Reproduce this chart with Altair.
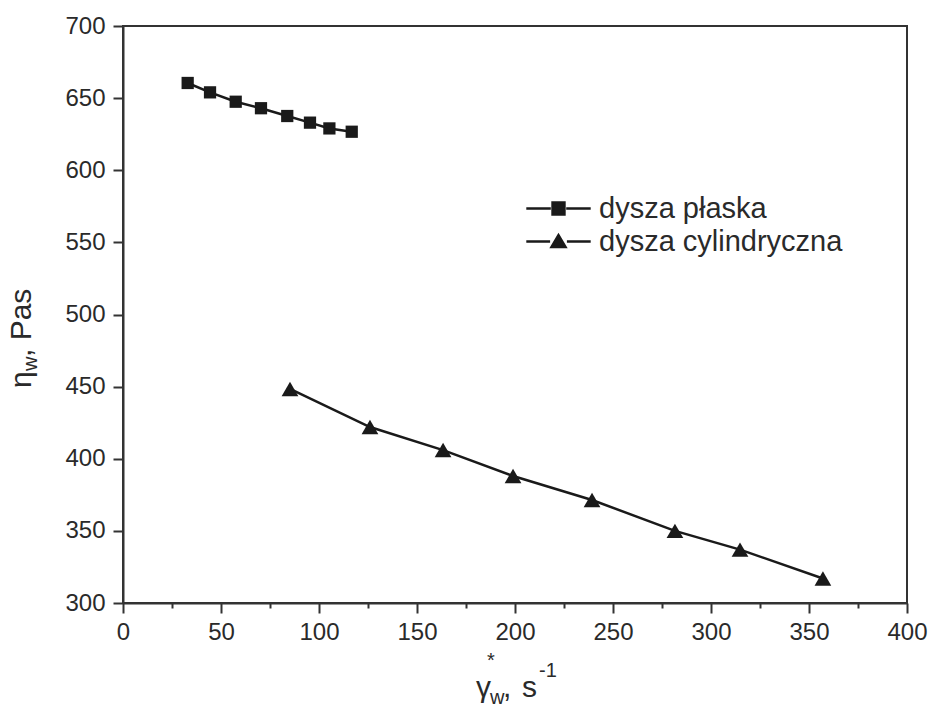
import altair as alt
import pandas as pd

# ---- data ----
series_names = ["dysza płaska", "dysza cylindryczna"]

flat_x = [33.0, 44.4, 57.5, 70.4, 83.8, 95.4, 105.3, 116.7]
flat_y = [660.5, 654.0, 647.5, 643.0, 637.6, 633.0, 629.0, 626.7]

cyl_x = [85.2, 126.0, 163.3, 199.0, 239.3, 281.6, 314.8, 357.1]
cyl_y = [448.4, 422.0, 406.0, 388.0, 371.4, 350.0, 337.0, 317.0]

x_ticks = list(range(0, 401, 25))
y_ticks = list(range(300, 701, 25))

df = pd.DataFrame({
    "x": flat_x + cyl_x,
    "y": flat_y + cyl_y,
    "series": [series_names[0]] * len(flat_x) + [series_names[1]] * len(cyl_x),
})

FONT = "Liberation Sans"
INK = "#1a1a1a"
TXT = "#2a2a2a"

x_enc = alt.X("x:Q", scale=alt.Scale(domain=[0, 400], nice=False, zero=False),
              axis=alt.Axis(values=x_ticks, title=None, labelFlush=False,
                            labelExpr="datum.value % 50 === 0 ? datum.label : ''",
                            tickSize={"condition": {"test": "datum.value % 50 !== 0", "value": 5}, "value": 10},
                            labelPadding=7))
y_enc = alt.Y("y:Q", scale=alt.Scale(domain=[300, 700], nice=False, zero=False),
              axis=alt.Axis(values=y_ticks, title=None,
                            labelExpr="datum.value % 50 === 0 ? datum.label : ''",
                            tickSize={"condition": {"test": "datum.value % 50 !== 0", "value": 5}, "value": 10},
                            labelPadding=8))

base = alt.Chart(df)

lines = base.mark_line(color=INK, strokeWidth=2.5).encode(x=x_enc, y=y_enc, detail="series:N")

squares = base.transform_filter(alt.datum.series == series_names[0]).mark_square(
    size=150, color=INK, opacity=1).encode(x="x:Q", y="y:Q")

triangles = base.transform_filter(alt.datum.series == series_names[1]).mark_point(
    shape="triangle-up", size=280, filled=True, color=INK, opacity=1).encode(x="x:Q", y="y:Q")

sq_path = "M-4.6,0H-1.1M1.1,0H4.6M-0.85,-0.85H0.85V0.85H-0.85Z"
tri_path = "M-4.6,0H-1.2M1.2,0H4.6M0,-0.9L-1,0.8L1,0.8Z"

legend_layer = base.transform_filter("false").mark_point(
    filled=False, fill=INK, stroke=INK, color=INK, strokeWidth=2.5, opacity=1).encode(
    x="x:Q", y="y:Q",
    shape=alt.Shape("series:N",
                    scale=alt.Scale(domain=series_names, range=[sq_path, tri_path]),
                    legend=alt.Legend(title=None, orient="none", legendX=421, legendY=168,
                                      symbolSize=196, symbolStrokeWidth=2.5,
                                      labelFont=FONT, labelFontSize=29, labelColor=TXT,
                                      labelOffset=26, rowPadding=3, padding=0,
                                      labelLimit=400)))


def txt(s, x, y, size, angle=0):
    return alt.Chart(alt.Data(values=[{"k": 1}])).mark_text(
        text=s, align="left", baseline="alphabetic", font=FONT, fontSize=size,
        angle=angle, color=TXT).encode(x=alt.value(x), y=alt.value(y))


titles = [
    # y-axis title: eta_w, Pas
    txt("η", -92, 362, 30, 270),
    txt("w", -86, 345, 20, 270),
    txt(", Pas", -92, 331, 30, 270),
    # x-axis title: gamma*_w, s^-1
    txt("γ", 353, 671, 30),
    txt("*", 364, 641, 20),
    txt("w", 367, 678, 20),
    txt(",", 380, 671, 30),
    txt("s", 399, 671, 30),
    txt("-1", 416, 651, 20),
]

chart = alt.layer(lines, squares, triangles, legend_layer, *titles).properties(
    width=784, height=577,
    autosize="none",
    padding={"left": 123, "top": 26, "right": 24, "bottom": 106},
).configure_axis(
    labelFont=FONT, labelFontSize=24, labelColor=TXT,
    domainColor="#333", domainWidth=2, tickColor="#333", tickWidth=2, grid=False,
).configure_view(stroke="#333", strokeWidth=2)

chart.save("out.html", embed_options={"renderer": "svg", "actions": False})
